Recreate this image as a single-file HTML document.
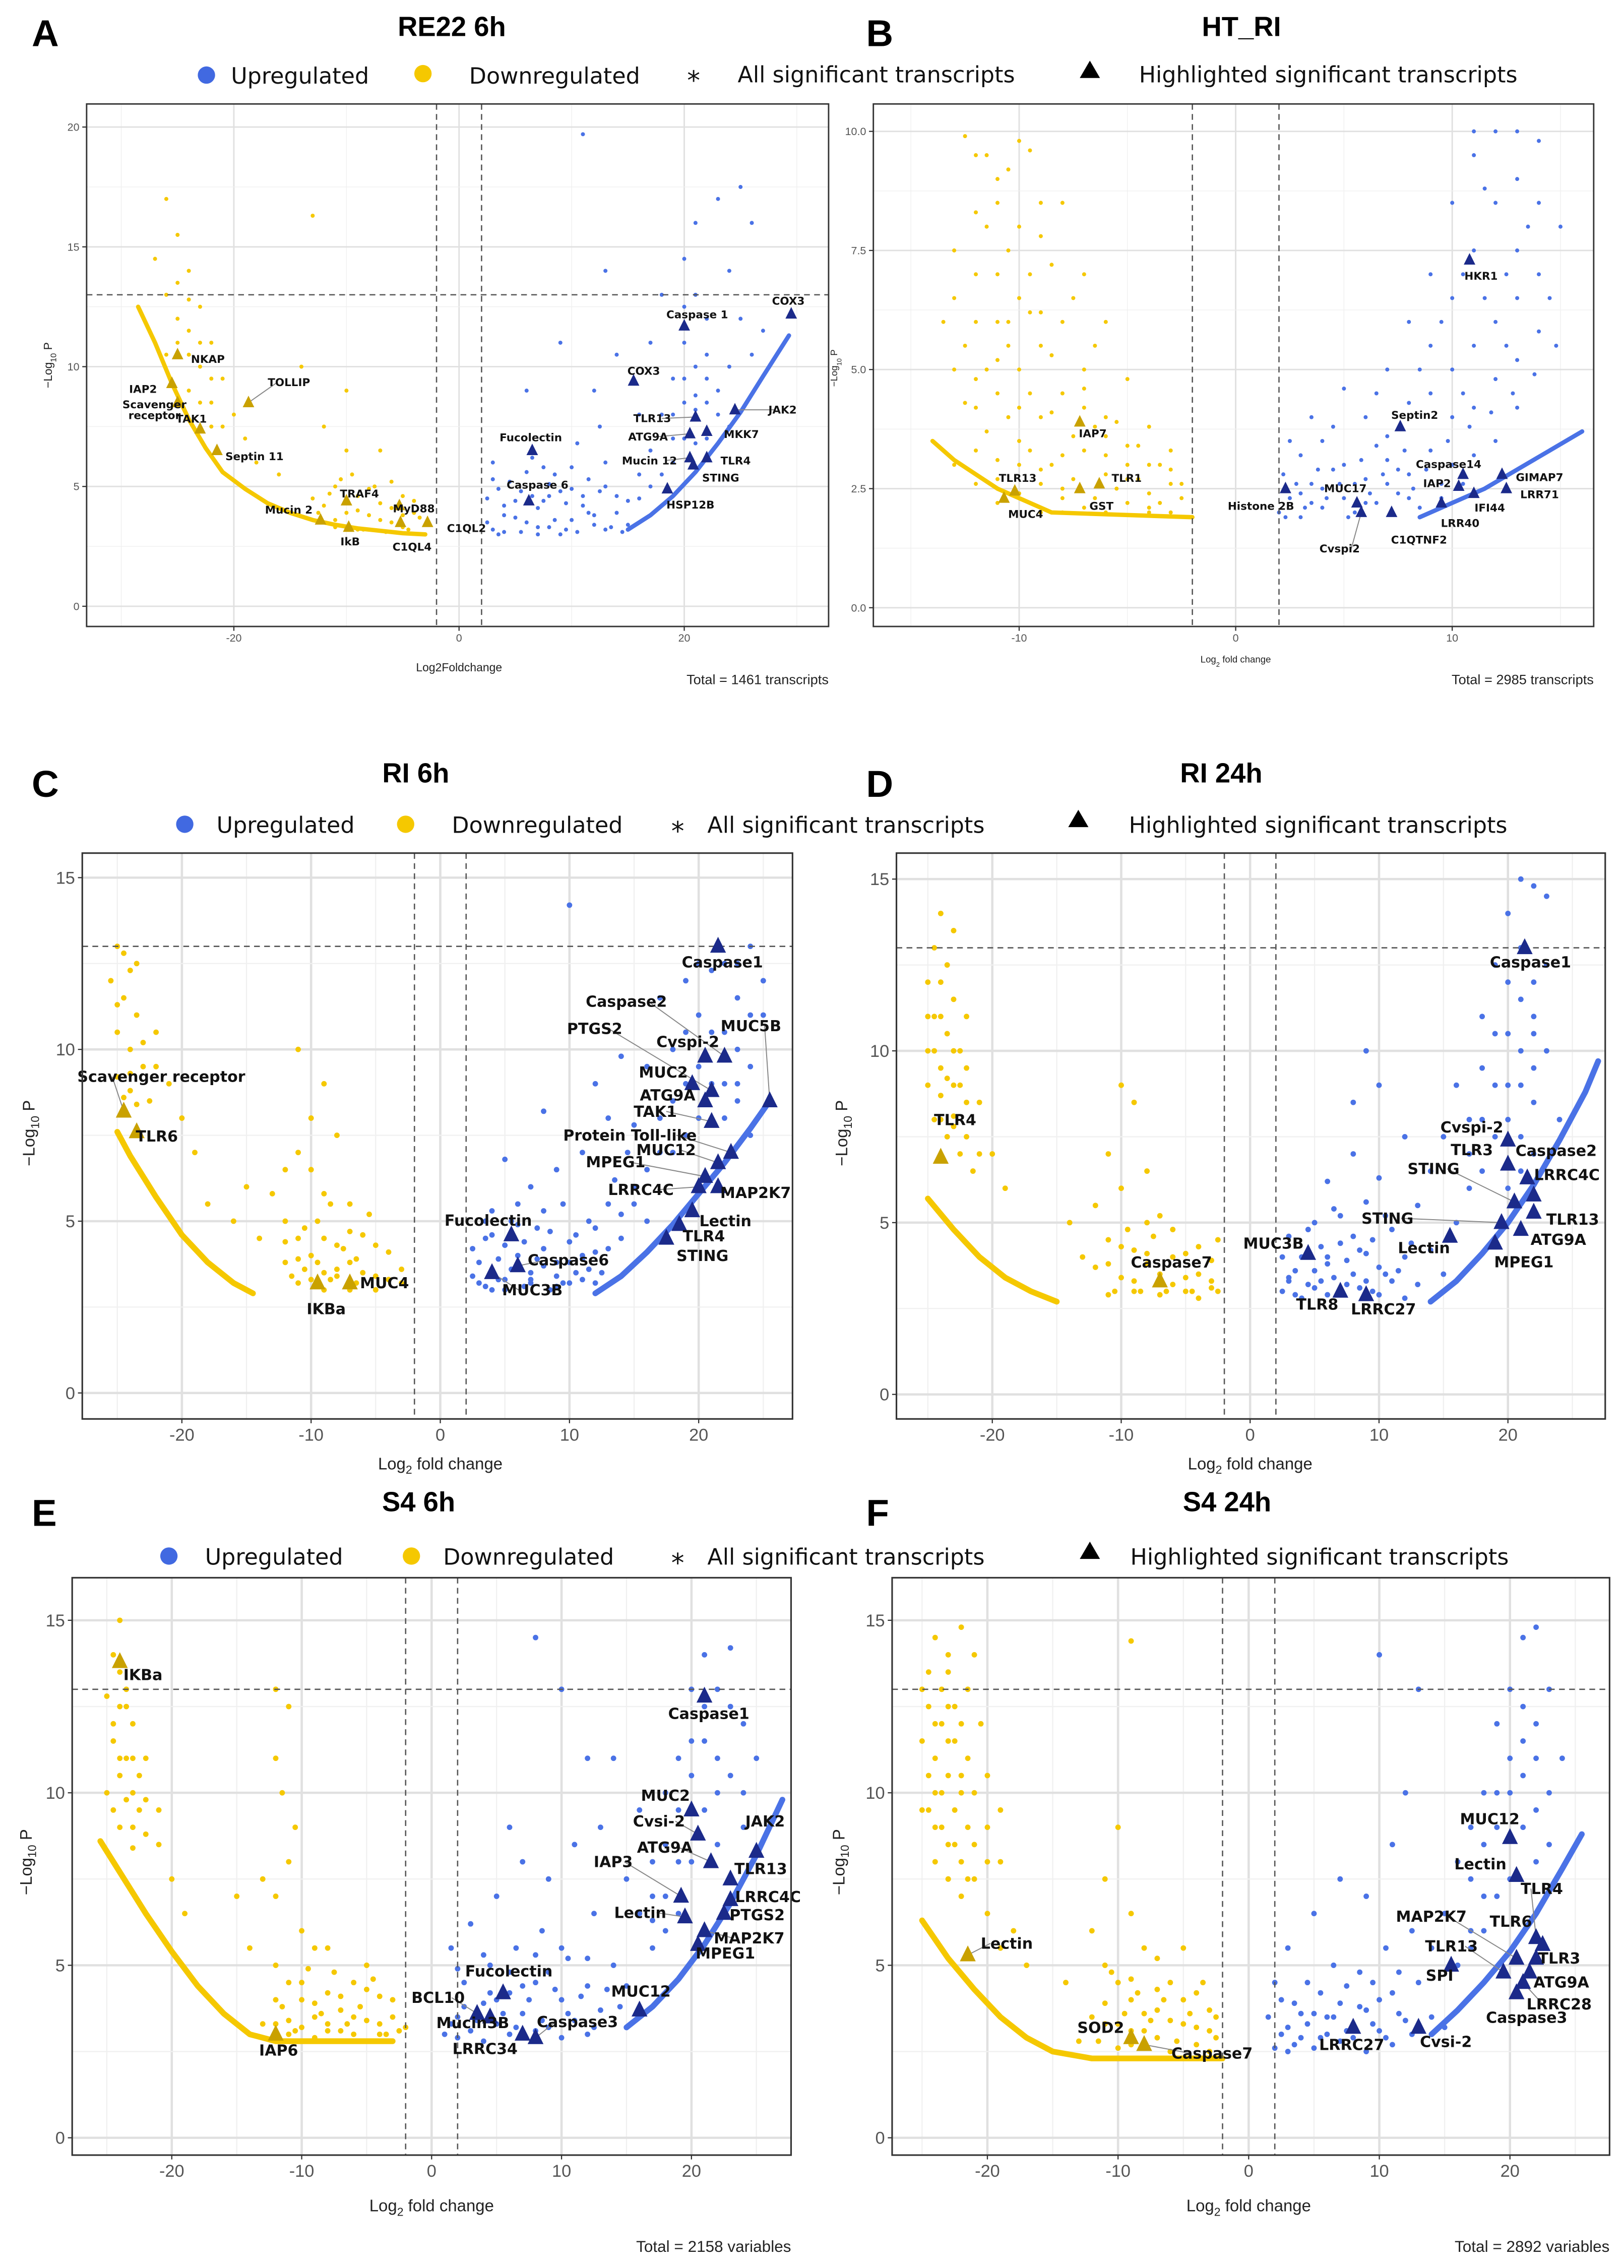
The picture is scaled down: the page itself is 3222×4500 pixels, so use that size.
<!DOCTYPE html>
<html><head><meta charset="utf-8"><style>
html,body{margin:0;padding:0;background:#fff;}
svg{display:block;font-family:"Liberation Sans",sans-serif;}
</style></head><body>
<svg id="fig" xmlns="http://www.w3.org/2000/svg" width="3222" height="4500" viewBox="0 0 1125 1571.2">
<rect x="0" y="0" width="1125" height="1571.2" fill="#fff"/>
<g font-weight="bold" font-size="26" fill="#000">
<text x="22" y="32">A</text>
<text x="600" y="32">B</text>
<text x="22" y="552">C</text>
<text x="600" y="552">D</text>
<text x="22" y="1057">E</text>
<text x="600" y="1057">F</text>
</g>
<g font-weight="bold" font-size="19" fill="#000" text-anchor="middle">
<text x="313" y="25">RE22 6h</text>
<text x="860" y="25">HT_RI</text>
<text x="288" y="542">RI 6h</text>
<text x="846" y="542">RI 24h</text>
<text x="290" y="1047">S4 6h</text>
<text x="850" y="1047">S4 24h</text>
</g>
<g font-size="15.5" fill="#111" font-family="DejaVu Sans, sans-serif">
<circle cx="143" cy="52" r="6" fill="#4169e1"/>
<text x="160" y="58">Upregulated</text>
<circle cx="293" cy="51" r="6" fill="#f5c800"/>
<text x="325" y="58">Downregulated</text>
<text x="476" y="62" font-size="18">*</text>
<text x="511" y="57">All significant transcripts</text>
<polygon points="755,42 748,54 762,54" fill="#000"/>
<text x="789" y="57">Highlighted significant transcripts</text>
</g>
<g font-size="15.5" fill="#111" font-family="DejaVu Sans, sans-serif">
<circle cx="128" cy="571" r="6" fill="#4169e1"/>
<text x="150" y="577">Upregulated</text>
<circle cx="281" cy="571" r="6" fill="#f5c800"/>
<text x="313" y="577">Downregulated</text>
<text x="465" y="582" font-size="18">*</text>
<text x="490" y="577">All significant transcripts</text>
<polygon points="747,561 740,573 754,573" fill="#000"/>
<text x="782" y="577">Highlighted significant transcripts</text>
</g>
<g font-size="15.5" fill="#111" font-family="DejaVu Sans, sans-serif">
<circle cx="117" cy="1078" r="6" fill="#4169e1"/>
<text x="142" y="1084">Upregulated</text>
<circle cx="285" cy="1078" r="6" fill="#f5c800"/>
<text x="307" y="1084">Downregulated</text>
<text x="465" y="1089" font-size="18">*</text>
<text x="490" y="1084">All significant transcripts</text>
<polygon points="755,1068 748,1080 762,1080" fill="#000"/>
<text x="783" y="1084">Highlighted significant transcripts</text>
</g>
</svg>
<script>
// ---------- Panel A (RE22 6h) ----------
const aUp=[[3,3.2],[4,3.8],[5,4.4],[6,3.5],[7,4.1],[8,3.3],[9,4.8],[10,3.6],[11,4.2],[12,3.4],[13,5.0],[14,3.9],[15,4.4],[4.5,5.2],[6.5,6.2],[8.5,5.5],[10.5,6.8],[12.5,7.5],[16,5.5],[17,6.5],[18,8],[19,9.5],[20,7],[21,10],[22,12],[23,9],[24,14],[25,17.5],[26,16],[21,16],[23,17],[22,8.5],[18,13],[20,14.5],[25,12],[26,10.5],[27,11.5],[17,11],[13,14],[11,19.7],[9,11],[6,9],[3,6],[12,9],[16,8],[19,6],[24,7.5],[14,10.5],[2.5,4.5],[3.5,4.9],[7.5,5.8],[9.5,3.2],[11.5,3.9],[13.5,3.3],[15,3.4],[5.5,3.1],[7,3.0],[4,3.1],[8,4.6],[10,4.9],[21,8.2],[22,9.5],[20,11]];
const aUpDense=[[2.5,3.5],[3.5,3.0],[4,4.2],[5,3.7],[5.5,4.8],[6.5,4.6],[7,3.3],[7.5,4.4],[8,5.1],[8.5,3.6],[9,3.0],[9.5,4.3],[10.5,3.1],[11,4.6],[11.5,5.3],[12,3.8],[12.5,4.8],[13,3.2],[14,4.6],[14.5,3.1],[3,5.3],[6,5.6],[10,5.8],[13,6],[16,4.5],[17,5],[18,5.5],[19,7],[20,8.5],[21,6.8],[22,7],[20,9.5],[19,8],[21,8.8],[23,8],[24,10],[22,10.5],[20,12.5],[21,13]];
const aUpBand=[[15,3.2],[17,3.8],[19,4.6],[21,5.6],[23,6.8],[25,8.1],[27,9.6],[29.3,11.3]];
const aDn=[[-26,17],[-25,15.5],[-24,14],[-27,14.5],[-26,13],[-23,12.5],[-24,11.5],[-22,11],[-25,12],[-23,10],[-21,9.5],[-22,8.5],[-20,8],[-24,9],[-26,10.5],[-19,7],[-18,6],[-13,16.3],[-14,10],[-16,5.5],[-11,5],[-10,4.5],[-9,4],[-8,3.8],[-7,4.3],[-6,3.5],[-5,4.6],[-4,3.9],[-3,3.4],[-12,4.2],[-9.5,5.5],[-7.5,5],[-12,7.5],[-10,9],[-8.5,3.2],[-6.5,3.1],[-11,3.6],[-4.5,3.2],[-10,6.5],[-7,6.5]];
const aDnDense=[[-11,3.3],[-10,3.9],[-9,4.6],[-8,3.2],[-7,3.6],[-6,4.1],[-5,3.3],[-4,4.4],[-3.5,3.7],[-12.5,3.9],[-11.5,4.7],[-10.5,5.3],[-9,3.2],[-8,4.9],[-6,5.2],[-5,3.8],[-13,4.5],[-24,12.8],[-25,11],[-23,11],[-22,9.5],[-23,8.5],[-21,7.5],[-22,7.5],[-25,13.5],[-24,10.5]];
const aDnBand=[[-28.5,12.5],[-27,11],[-25.5,9.3],[-24,7.8],[-22.5,6.6],[-21,5.6],[-19,4.9],[-17,4.3],[-15,3.9],[-13,3.6],[-11,3.4],[-9,3.25],[-7,3.15],[-5,3.05],[-3,3.0]];
const aHiLabels=["Caspase 1","COX3","COX3","Fucolectin","Caspase 6","TLR13","JAK2","ATG9A","MKK7","Mucin 12","TLR4","STING","HSP12B","NKAP","IAP2","Scavenger|receptor","TAK1","Septin 11","TOLLIP","TRAF4","Mucin 2","IkB","MyD88","C1QL4","C1QL2"];
const aHiX=[20,29.5,15.5,6.5,6.2,21,24.5,20.5,22,20.5,22,20.8,18.5,-25,-25.5,-25,-23,-21.5,-18.7,-10,-12.3,-9.8,-5.3,-5.2,-2.8];
const aHiY=[11.7,12.2,9.4,6.5,4.4,7.9,8.2,7.2,7.3,6.2,6.2,5.9,4.9,10.5,9.3,8.5,7.4,6.5,8.5,4.4,3.6,3.3,4.2,3.5,3.5];
const aHiUp=[1,1,1,1,1,1,1,1,1,1,1,1,1,0,0,0,0,0,0,0,0,0,0,0,0];
const aLabDX=[9,-2,7,-1,6,-30,33,-29,24,-28,20,19,16,21,-20,-16,-6,26,28,9,-22,1,10,8,27];
const aLabDY=[-8,-9,-7,-9,-11,1,0,2,2,2,2,9,11,3,4,5,-7,4,-14,-5,-7,10,2,17,4];

// ---------- Panel B (HT_RI) ----------
const bUp=[[2,2],[2.5,2.3],[3,1.9],[3.5,2.6],[4,2.1],[4.5,2.9],[5,2.3],[5.5,2.0],[6,2.7],[6.5,2.2],[7,3.1],[7.5,2.4],[8,2.8],[8.5,2.1],[9,3.3],[9.5,2.6],[10,3.0],[3,3.2],[4,3.5],[5,3.0],[6,4.0],[7,3.6],[8,4.3],[9,4.5],[10,5],[11,5.5],[12,6],[13,6.5],[11,4.2],[12,4.8],[13,5.2],[14,5.8],[10,6.5],[9,7],[11,7.5],[12,8.5],[13,9],[14,9.8],[12,10],[10,8.5],[8,6],[7,5],[11,9.5],[13,7.5],[14,7],[15,8],[9,5.5],[12,3.5],[2.2,2.8],[3.5,4.0],[5,4.6],[6.5,3.4],[11,3.2],[4,2.5],[6,2.2],[8,2.3],[3,2.4],[7,2.6],[13,4.2],[10,4]];
const bUpDense=[[2.3,1.9],[3.2,2.1],[4.2,2.3],[5.2,1.9],[6.2,2.4],[7.2,2.0],[8.2,2.5],[2.8,2.6],[3.8,2.9],[4.8,2.6],[5.8,3.1],[6.8,2.8],[7.8,3.3],[8.8,2.9],[9.8,3.5],[10.8,3.8],[11.8,4.1],[12.8,4.5],[13.8,4.9],[14.8,5.5],[2.5,3.5],[4.5,3.8],[6.5,4.5],[8.5,5],[10.5,4.5],[12.5,5.5],[13.5,8],[11.5,8.8],[10.5,7],[12.5,7],[14.5,6.5],[9.5,6],[11.5,6.5],[13,10],[11,10],[14,8.5],[3.5,2.2],[5.5,2.6],[7.5,2.9],[9.5,2.3],[10.5,2.6]];
const bUpBand=[[8.5,1.9],[10,2.2],[11.5,2.5],[13,2.9],[14.5,3.3],[16,3.7]];
const bDn=[[-12,9.5],[-11,9],[-10,9.8],[-9,8.5],[-11.5,8],[-10.5,7.5],[-12,7],[-9.5,7],[-10,6.5],[-8,6],[-11,6],[-12.5,5.5],[-9,5.5],[-7,5],[-10,5],[-8,4.5],[-11,4.5],[-6,4],[-12,4.2],[-9,4],[-7.5,3.6],[-10,3.5],[-5,3.4],[-4,3.0],[-3,2.6],[-6,2.8],[-8,2.5],[-9,2.9],[-11,3.1],[-5,2.2],[-3,2.0],[-4,2.4],[-7,2.1],[-9,2.0],[-2.5,2.3],[-6,3.2],[-8,3.2],[-10,2.4],[-12,2.6],[-13,3.0],[-7,7],[-6,6],[-8,8.5],[-13,6.5],[-5,4.8],[-4,3.8],[-3,3.3],[-6,2.0],[-4,2.0],[-8,2.0],[-10,4.2],[-11,5.2],[-9,6.2],[-7,4.2],[-5,2.7],[-11,2.2]];
const bDnDense=[[-12.5,9.9],[-11.5,9.5],[-10.5,9.2],[-9.5,9.6],[-11,8.5],[-10,8],[-12,8.3],[-9,7.8],[-8.5,7.2],[-11,7],[-10.5,6],[-12,6],[-9.5,6.2],[-8.5,5.3],[-10.5,5.5],[-11.5,5],[-12,4.8],[-9.5,4.5],[-8.5,4.1],[-7,4.6],[-6.5,3.8],[-10.5,4],[-11.5,3.7],[-9.5,3.3],[-8.5,3.0],[-7.5,2.7],[-6.5,2.3],[-5.5,2.5],[-4.5,2.7],[-3.5,2.2],[-2.5,2.6],[-3.5,3.0],[-4.5,3.4],[-5.5,3.9],[-6.5,5.5],[-7.5,6.5],[-12.5,4.3],[-13,5],[-13,7.5],[-12,3.3],[-10,3.0],[-9,2.6],[-8,2.3],[-7,3.3],[-6,3.6],[-5,3.0],[-4,2.1],[-3,2.9],[-11,2.7],[-13.5,6]];
const bDnBand=[[-14,3.5],[-13,3.1],[-12,2.8],[-11,2.5],[-10,2.3],[-8.5,2.0],[-2,1.9]];
const bHiLabels=["IAP7","TLR13","MUC4","TLR1","GST","HKR1","Septin2","Histone 2B","MUC17","Cvspi2","C1QTNF2","Caspase14","IAP2","GIMAP7","LRR71","IFI44","LRR40"];
const bHiX=[-7.2,-10.2,-10.7,-6.3,-7.2,10.8,7.6,2.3,5.6,5.8,7.2,10.5,10.3,12.3,12.5,11,9.5];
const bHiY=[3.9,2.45,2.3,2.6,2.5,7.3,3.8,2.5,2.2,2.0,2.0,2.8,2.55,2.8,2.5,2.4,2.2];
const bHiUp=[0,0,0,0,0,1,1,1,1,1,1,1,1,1,1,1,1];
const bLabDX=[9,2,15,19,15,8,10,-17,-8,-15,19,-10,-15,26,23,11,13];
const bLabDY=[8,-9,11,-4,12,11,-8,12,-10,25,19,-7,-2,2,4,10,14];

// ---------- Panel C (RI 6h) ----------
const cUp=[[3,3.2],[4,3.6],[5,3.3],[6,4],[7,3.5],[8,4.2],[9,3.4],[10,3.8],[11,3.3],[12,4.1],[3.5,4.5],[5.5,5],[7.5,4.8],[9.5,5.5],[11.5,5],[4.5,3.9],[6.5,3.1],[8.5,3.0],[10.5,4.6],[12.5,3.5],[13,5.5],[14,4.5],[15,6],[16,5],[14.5,7],[13,8],[11,7],[9,6.5],[7,6],[5,6.8],[10,14.2],[12,9],[8,8.2],[16,9.5],[17,8],[18,10],[17,11.5],[19,12],[20,11],[22,12.5],[23,11.5],[24,13],[25,12],[21,10.5],[23,10],[24,9.5],[25,11],[18,7],[19,7.5],[22,9],[20,8],[24,7.5],[15,7.8],[14,9.8],[13.5,6.2],[6,5.5],[4,5.3],[2.5,4.2],[2.5,3.4],[5,3.0],[7,3.3],[9,3.1],[11,3.9],[8,3.7],[6,3.6],[4,3.0],[10,3.2],[12,3.2],[21,12.3],[23,8.5]];
const cUpDense=[[3,3.8],[3.5,3.1],[4.5,3.3],[5,4.3],[5.5,3.6],[6.5,4.4],[7,3.2],[7.5,3.9],[8.5,4.7],[9,3.8],[9.5,3.2],[10,4.4],[10.5,3.5],[11,4.0],[11.5,3.6],[12,4.8],[4,4.6],[6,4.9],[8,5.3],[3.5,5.0],[13,4.2],[14,5.2],[15,5.5],[16,6.5],[17,7],[18,8.5],[19,9],[20,9.5],[21,9],[22,8],[23,9],[22,10.5],[19,10.5],[20,12.5],[23,12.5],[24,11]];
const cUpBand=[[12,2.9],[14,3.4],[16,4.1],[18,4.9],[20,5.8],[22,6.7],[24,7.7],[25.5,8.5]];
const cDn=[[-25,13],[-24,12.3],[-25.5,12],[-24.5,11.5],[-23.5,11],[-25,10.5],[-24,10],[-23,9.5],[-25,9.2],[-24,8.8],[-22,10.5],[-23.5,12.5],[-22.5,8.5],[-21,9],[-20,8],[-19,7],[-18,5.5],[-13,5.8],[-12,6.5],[-11,7],[-10,8],[-9,9],[-8,7.5],[-11,10],[-7,5.5],[-12,5],[-11,4.5],[-10,4],[-9,3.5],[-8,4.3],[-7,3.8],[-6,4.6],[-5,3.4],[-4,4.1],[-3,3.6],[-9.5,5],[-8.5,5.5],[-10.5,3.6],[-6.5,3.2],[-5.5,5.2],[-14,4.5],[-15,6],[-16,5],[-3,3.2],[-12,3.8],[-9,3.0],[-7,3.0],[-11,3.2],[-5,3.0],[-8,3.4]];
const cDnDense=[[-11,3.9],[-10,3.3],[-9,4.5],[-8,3.6],[-7,4.7],[-6,3.5],[-5,4.3],[-4,3.3],[-10.5,4.8],[-9.5,3.8],[-8.5,3.3],[-7.5,4.2],[-6.5,3.9],[-11.5,3.4],[-12,4.4],[-9,5.8],[-10,6.5],[-25,11.3],[-24.5,12.8],[-24,9.3],[-23,10.2],[-24.5,8.6],[-23.5,8.4],[-22,9.5]];
const cDnBand=[[-25,7.6],[-24,6.9],[-22,5.7],[-20,4.6],[-18,3.8],[-16,3.2],[-14.5,2.9]];
const cHiLabels=["Caspase1","Caspase2","MUC5B","PTGS2","Cvspi-2","MUC2","ATG9A","TAK1","Protein Toll-like","MUC12","MPEG1","LRRC4C","MAP2K7","Lectin","TLR4","STING","Fucolectin","Caspase6","MUC3B","Scavenger receptor","TLR6","IKBa","MUC4"];
const cHiX=[21.5,22,25.5,21,20.5,19.5,20.5,21,22.5,21.5,20.5,20,21.5,19.5,18.5,17.5,5.5,6,4,-24.5,-23.5,-9.5,-7];
const cHiY=[13,9.8,8.5,8.8,9.8,9.0,8.5,7.9,7.0,6.7,6.3,6,6,5.3,4.9,4.5,4.6,3.7,3.5,8.2,7.6,3.2,3.2];
const cHiUp=[1,1,1,1,1,1,1,1,1,1,1,1,1,1,1,1,1,1,1,0,0,0,0];
const cLabDX=[3,-68,-13,-81,-12,-20,-26,-39,-70,-36,-62,-40,26,23,17,25,-16,35,28,26,14,6,24];
const cLabDY=[11,-38,-52,-43,-10,-8,-4,-7,-12,-9,-10,2,4,7,8,12,-10,-4,12,-24,3,18,0];

// ---------- Panel D (RI 24h) ----------
const dUp=[[2.5,3.0],[3.5,3.6],[4.5,3.2],[5.5,4.3],[6.5,3.4],[7.5,3.9],[8.5,3.1],[9.5,4.5],[10.5,3.5],[3,4.6],[5,5],[7,5.2],[9,5.6],[11,4.8],[12,4],[13,5.5],[14,6.5],[6,6.2],[8,7],[10,6.3],[10,9],[8,8.5],[9,10],[12,7.5],[15,7.5],[16,9],[17,8],[18,11],[19,12.5],[20,14],[21,15],[22,14.8],[23,14.5],[20,10.5],[21,11.5],[22,12],[23,10],[19,9],[18,8],[21,9],[22,8.5],[24,8],[17,6],[16,5],[15,3.5],[4,2.8],[6,2.9],[11,3.3],[13,3.2],[20,6],[14,4.2],[5,3.6],[7,3.0],[9,3.3],[3,3.4],[8,4.6],[6,4.0],[10,2.9],[12,2.8],[21,13],[22,10.5]];
const dUpDense=[[3,3.3],[4,4.0],[5,3.1],[6,3.8],[7,4.4],[8,3.5],[9,4.1],[10,3.7],[3.5,2.9],[5.5,3.3],[7.5,3.2],[9.5,3.0],[11.5,3.6],[12.5,4.4],[4.5,4.8],[6.5,5.4],[8.5,4.2],[10.5,5.2],[2.5,4.0],[17,7],[18,9.5],[19,10.5],[20,9],[21,10],[22,11],[20,12],[19,7.5],[18,6.5],[21,7.5],[22,9.5],[23,12.5],[20,8],[21,6.5],[22,7]];
const dUpBand=[[14,2.7],[16,3.3],[18,4.1],[20,5],[22,6.1],[24,7.4],[26,8.8],[27,9.7]];
const dDn=[[-24,14],[-24.5,13],[-23.5,12.5],[-24,12],[-23,11.5],[-24.5,11],[-23.5,10.5],[-22.5,10],[-24,9.5],[-23,9],[-22,8.5],[-24.5,8],[-23.5,7.5],[-22.5,7],[-21.5,6.5],[-25,12],[-22,11],[-23,13.5],[-25,9],[-21,8.5],[-20,7],[-19,6],[-10,9],[-9,8.5],[-11,7],[-8,6.5],[-10,6],[-12,5.5],[-7,5.2],[-6,4.8],[-11,4.5],[-9,4.2],[-8,3.8],[-5,4.1],[-4,3.5],[-3,3.9],[-10,3.4],[-6,3.2],[-12,3.7],[-14,5],[-13,4],[-5,3],[-3,3.1],[-8,5],[-2.5,4.5],[-9,3.0],[-7,2.9],[-11,2.9],[-4,2.8],[-24,8.7],[-23,8.1],[-22,9.5],[-25,10]];
const dDnDense=[[-11,3.8],[-10,4.3],[-9,3.3],[-8,4.1],[-7,3.5],[-6,4.0],[-5,3.4],[-4,4.3],[-3,3.3],[-10.5,3.0],[-8.5,3.0],[-6.5,3.0],[-4.5,3.0],[-2.5,3.0],[-9.5,4.8],[-7.5,4.6],[-24.5,10],[-24,11],[-23,10],[-22.5,9],[-24,8],[-23,7.8],[-22,7.5],[-21,7],[-25,11],[-23.5,9.2]];
const dDnBand=[[-25,5.7],[-23,4.8],[-21,4],[-19,3.4],[-17,3],[-15,2.7]];
const dHiLabels=["Caspase1","Cvspi-2","TLR3","Caspase2","LRRC4C","STING","STING","TLR13","ATG9A","MPEG1","Lectin","MUC3B","TLR8","LRRC27","TLR4","Caspase7"];
const dHiX=[21.3,20,20,21.5,22,20.5,19.5,22,21,19,15.5,4.5,7,9,-24,-7];
const dHiY=[13,7.4,6.7,6.3,5.8,5.6,5.0,5.3,4.8,4.4,4.6,4.1,3.0,2.9,6.9,3.3];
const dHiUp=[1,1,1,1,1,1,1,1,1,1,1,1,1,1,0,0];
const dLabDX=[4,-25,-25,20,23,-56,-79,27,26,20,-18,-24,-16,12,10,8];
const dLabDY=[10,-9,-10,-19,-14,-23,-3,5,7,13,8,-7,9,10,-26,-13];

// ---------- Panel E (S4 6h) ----------
const eUp=[[1,3.0],[2,3.5],[3,3.1],[4,3.9],[5,3.3],[6,4.2],[7,3.6],[8,4.5],[9,3.2],[10,4.0],[11,3.4],[12,4.4],[13,3.7],[2.5,4.5],[4.5,5],[6.5,5.5],[8.5,6],[10.5,5.2],[12.5,6.5],[14,5],[15,4.4],[3,6.2],[5,7],[7,8],[9,7.5],[11,8.5],[13,9],[10,13],[8,14.5],[14,11],[16,9.5],[17,8],[18,10],[19,11],[20,13],[21,14],[22,13],[23,14.2],[24,12],[25,11],[20,10.5],[22,10],[18,7],[17,5.5],[19,6.5],[24,9],[16,6.5],[15,7.5],[6,9],[12,11],[1.5,5.5],[2,2.9],[4,2.8],[6,3.0],[8,3.1],[10,2.9],[12,3.0],[5,4.0],[7,4.4],[9,4.8],[21,11.5],[23,10.5]];
const eUpDense=[[1.5,3.3],[2.5,3.8],[3.5,3.4],[4.5,4.2],[5.5,3.6],[6.5,3.2],[7.5,4.0],[8.5,3.4],[9.5,4.3],[10.5,3.6],[11.5,4.1],[12.5,3.2],[13.5,4.3],[14.5,3.8],[2,4.9],[4,5.3],[6,4.8],[8,5.3],[10,5.5],[12,5.2],[17,7],[18,8.5],[19,9.5],[20,11.5],[21,12.5],[22,11],[23,12.5],[24,10],[20,8],[21,9.5],[22,8.5],[19,8],[18,6],[17,6.3]];
const eUpBand=[[15,3.2],[17,3.8],[19,4.6],[21,5.6],[23,6.8],[25,8.2],[27,9.8]];
const eDn=[[-24,15],[-24.5,14],[-23.5,13],[-24,12.5],[-23,12],[-24.5,11.5],[-23.5,11],[-24,10.5],[-23,10],[-22.5,9.5],[-24,9],[-22,8.8],[-25,12.8],[-22,11],[-21,9.5],[-20,7.5],[-19,6.5],[-12,13],[-11,12.5],[-12,11],[-11.5,10],[-10.5,9],[-11,8],[-12,7],[-10,6],[-13,7.5],[-9,5.5],[-12,5],[-11,4.5],[-10,4],[-9,3.5],[-8,4.2],[-7,3.7],[-6,4.5],[-5,3.4],[-4,4.1],[-3,3.5],[-2,3.2],[-8,5.5],[-5,5],[-14,5.5],[-15,7],[-13,3.3],[-7,3.1],[-10,3.2],[-11,3.0],[-9,2.9],[-6,3.0],[-4,3.0],[-12,4.0],[-8,3.3],[-23,8.4],[-25,10]];
const eDnDense=[[-11,3.4],[-10,4.5],[-9,3.9],[-8,3.1],[-7,4.1],[-6,3.5],[-5,4.3],[-4,3.3],[-3,4],[-2.5,3.1],[-11.5,3.8],[-10.5,3.1],[-9.5,4.9],[-8.5,3.6],[-7.5,4.8],[-6.5,3.3],[-5.5,3.8],[-4.5,4.6],[-3.5,3.0],[-12,3.3],[-24,13.5],[-23.5,12.5],[-24.5,12],[-23,11],[-24,11],[-23.5,9.8],[-22.5,10.5],[-24.5,9.5],[-22,9.8],[-21,8.5],[-23,9]];
const eDnBand=[[-25.5,8.6],[-24,7.7],[-22,6.5],[-20,5.4],[-18,4.4],[-16,3.6],[-14,3],[-12,2.8],[-3,2.8]];
const eHiLabels=["Caspase1","MUC2","Cvsi-2","JAK2","ATG9A","IAP3","TLR13","LRRC4C","PTGS2","Lectin","MAP2K7","MPEG1","MUC12","Fucolectin","BCL10","Mucin3B","LRRC34","Caspase3","IKBa","IAP6"];
const eHiX=[21,20,20.5,25,21.5,19.2,23,23,22.5,19.5,21,20.5,16,5.5,3.5,4.5,7,8,-24,-12];
const eHiY=[12.8,9.5,8.8,8.3,8.0,7.0,7.5,6.9,6.5,6.4,6,5.6,3.7,4.2,3.6,3.5,3.0,2.9,13.8,3.0];
const eHiUp=[1,1,1,1,1,1,1,1,1,1,1,1,1,1,1,1,1,1,0,0];
const eLabDX=[3,-18,-27,6,-32,-47,21,26,23,-31,31,19,1,4,-27,-12,-26,29,16,2];
const eLabDY=[12,-10,-9,-21,-10,-24,-7,-2,1,-3,5,6,-13,-15,-11,4,10,-11,9,11];

// ---------- Panel F (S4 24h) ----------
const fUp=[[2,2.6],[3,3.2],[4,2.9],[5,3.6],[6,3.0],[7,3.9],[8,3.3],[9,3.7],[10,3.1],[11,4.2],[12,3.4],[2.5,4],[4.5,4.5],[6.5,5],[8.5,4.8],[10.5,5.5],[12.5,6],[13,4.5],[14,5.5],[3,5.5],[5,6.5],[7,7.5],[9,7],[11,8.5],[12,10],[10,14],[15,6.5],[16,8],[17,9],[18,10],[19,12],[20,13],[21,14.5],[22,14.8],[23,13],[24,11],[20,10],[22,9.5],[21,11.5],[19,9],[18,7],[17,6],[23,8.5],[16,5],[14,3.5],[13,13],[15,3.2],[1.5,3.5],[3,2.5],[5,2.6],[7,2.8],[9,2.5],[11,2.7],[6,3.5],[8,2.9],[4,3.6],[10,4.0],[21,12.5],[22,11]];
const fUpDense=[[2.5,3.0],[3.5,2.7],[4.5,3.3],[5.5,2.9],[6.5,3.5],[7.5,3.1],[8.5,3.8],[9.5,3.3],[10.5,2.9],[11.5,3.6],[12.5,3.0],[3.5,3.9],[5.5,4.2],[7.5,4.4],[9.5,4.5],[11.5,4.8],[2,4.5],[17,7.5],[18,8.5],[19,10],[20,11],[21,10.5],[22,12],[23,10],[19,7],[20,7.5],[21,9],[22,8],[18,6],[17,5.5]];
const fUpBand=[[14,3.0],[16,3.7],[18,4.5],[20,5.4],[22,6.5],[24,7.8],[25.5,8.8]];
const fDn=[[-24,14.5],[-23,14],[-22,14.8],[-21,14],[-24.5,13.5],[-23.5,13],[-22.5,12.5],[-24,12],[-23,11.5],[-21.5,11],[-24.5,10.5],[-23.5,10],[-22.5,9.5],[-21,10],[-24,9],[-23,8.5],[-22,8],[-20,9],[-19,8],[-25,11.5],[-20.5,12],[-21.5,7.5],[-20,6.5],[-18,6],[-19,5.5],[-17,5],[-9,14.4],[-10,9],[-11,7.5],[-9,6.5],[-12,6],[-8,5.5],[-11,5],[-10,4.5],[-9,4],[-8,3.6],[-7,4.3],[-6,3.4],[-5,4.0],[-4,3.2],[-3,3.7],[-2.5,2.9],[-12,3.5],[-14,4.5],[-7,5.2],[-5,5.5],[-13,2.8],[-10,2.6],[-6,2.5],[-3,2.5],[-9,3.1],[-7,2.9],[-11,3.3],[-4,2.7],[-8,2.6],[-25,13],[-23,12.5],[-22,10.5],[-24,10],[-21,8.5],[-25,9.5],[-23,7.5]];
const fDnDense=[[-24.5,12.5],[-23.5,12],[-22.5,11.5],[-24,11],[-23,10.5],[-22,10],[-24.5,9.5],[-23.5,9],[-22.5,8.5],[-21.5,9],[-24,8],[-23,7.5],[-22,7],[-21,7.5],[-20,8],[-23,13.5],[-21.5,13],[-22,12],[-20,10.5],[-19,9.5],[-11,3.9],[-10,3.3],[-9,4.6],[-8,3.1],[-7,3.7],[-6,4.5],[-5,3.3],[-4,4.2],[-3,3.1],[-10.5,4.8],[-9.5,3.6],[-8.5,4.2],[-7.5,3.4],[-6.5,4.0],[-5.5,2.8],[-4.5,3.6],[-3.5,4.5],[-2.5,3.5],[-11.5,2.8],[-9,2.7]];
const fDnBand=[[-25,6.3],[-23,5.2],[-21,4.3],[-19,3.5],[-17,2.9],[-15,2.5],[-12,2.3],[-2,2.3]];
const fHiLabels=["MUC12","Lectin","TLR4","MAP2K7","TLR6","TLR13","SPI","TLR3","ATG9A","LRRC28","Caspase3","LRRC27","Cvsi-2","Lectin","SOD2","Caspase7"];
const fHiX=[20,20.5,22,20.5,22.5,19.5,15.5,22,21.5,21,20.5,8,13,-21.5,-9,-8];
const fHiY=[8.7,7.6,5.8,5.2,5.6,4.8,5.0,5.2,4.8,4.5,4.2,3.2,3.2,5.3,2.9,2.7];
const fHiUp=[1,1,1,1,1,1,1,1,1,1,1,1,1,0,0,0];
const fLabDX=[-14,-25,4,-59,-22,-36,-8,16,22,25,7,-1,19,27,-21,47];
const fLabDY=[-13,-8,-34,-29,-16,-18,7,0,7,15,17,12,10,-8,-7,6];

// axis tick arrays
const tickXA=[-20,0,20], tickYA=[0,5,10,15,20];
const tickXB=[-10,0,10], tickYB=[0,2.5,5,7.5,10], tickYBLab=["0.0","2.5","5.0","7.5","10.0"];
const tickX=[-20,-10,0,10,20], tickY=[0,5,10,15];

const NS='http://www.w3.org/2000/svg';
const svg=document.getElementById('fig');
function mk(tag,attrs,parent){const e=document.createElementNS(NS,tag);for(const k in attrs)e.setAttribute(k,attrs[k]);parent.appendChild(e);return e;}

function drawPanel(id,cfg,up,upBand,dn,dnBand,hL,hX,hY,hUp,lDX,lDY){
  const X=v=>cfg.x0+cfg.kx*v, Y=v=>cfg.y0-cfg.ky*v;
  const [L,T,R,B]=cfg.box;
  const g=mk('g',{},svg);
  
  
  const cp=mk('clipPath',{id:'clip-'+id},g);
  mk('rect',{x:L,y:T,width:R-L,height:B-T},cp);
  const bg=mk('rect',{x:L,y:T,width:R-L,height:B-T,fill:'#fff'},g);
  
  
  const grid=mk('g',{'clip-path':'url(#clip-'+id+')'},g);
  
  
  const xs=cfg.xt[1]-cfg.xt[0], ys=cfg.yt[1]-cfg.yt[0];
  for(let t=cfg.xt[0]-xs*2;t<=cfg.xt[cfg.xt.length-1]+xs*2;t+=xs/2){
    const major=cfg.xt.includes(t);
    mk('line',{x1:X(t),x2:X(t),y1:T,y2:B,stroke:major?'#e0e0e0':'#f0f0f0','stroke-width':major?cfg.gw:cfg.gw*0.5},grid);
  }
  for(let t=cfg.yt[0];t<=cfg.yt[cfg.yt.length-1]+ys;t+=ys/2){
    const major=cfg.yt.includes(t);
    mk('line',{x1:L,x2:R,y1:Y(t),y2:Y(t),stroke:major?'#e0e0e0':'#f0f0f0','stroke-width':major?cfg.gw:cfg.gw*0.5},grid);
  }
  const pts=mk('g',{'clip-path':'url(#clip-'+id+')'},g);
  
  
  const blue='#4a72e6', yel='#f5c800';
  const bandU=mk('polyline',{points:upBand.map(p=>X(p[0])+','+Y(p[1])).join(' '),fill:'none',stroke:blue,'stroke-width':cfg.bw,'stroke-linecap':'round','stroke-linejoin':'round'},pts);
  
  
  const bandD=mk('polyline',{points:dnBand.map(p=>X(p[0])+','+Y(p[1])).join(' '),fill:'none',stroke:yel,'stroke-width':cfg.bw,'stroke-linecap':'round','stroke-linejoin':'round'},pts);
  
  
  up.forEach(p=>{const c=mk('circle',{cx:X(p[0]),cy:Y(p[1]),r:cfg.pr,fill:blue},pts);
    
    });
  dn.forEach(p=>{const c=mk('circle',{cx:X(p[0]),cy:Y(p[1]),r:cfg.pr,fill:yel},pts);
    
    });
  [-2,2].forEach(v=>{const l=mk('line',{x1:X(v),x2:X(v),y1:T,y2:B,stroke:'#555','stroke-width':0.9,'stroke-dasharray':'4,3'},g);
    
    });
  if(cfg.h){const l=mk('line',{x1:L,x2:R,y1:Y(13),y2:Y(13),stroke:'#555','stroke-width':0.9,'stroke-dasharray':'4,3'},g);
    
    }
  const hg=mk('g',{'font-weight':'bold','font-size':cfg.lf,'text-anchor':'middle','font-family':'DejaVu Sans, sans-serif'},g);
  
  
  const s=cfg.ts;
  hL.forEach((lab,i)=>{
    const tx=X(hX[i]), ty=Y(hY[i]);
    const lx=tx+lDX[i], ly=ty+lDY[i];
    if(Math.hypot(lDX[i],lDY[i])>28){
      const a=mk('line',{x1:lx+(lDX[i]>0?-cfg.lf*lab.length*0.3:cfg.lf*lab.length*0.3)*0.6,y1:ly,x2:tx,y2:ty,stroke:'#888','stroke-width':0.7},hg);
      
      
    }
    const tri=mk('polygon',{points:`${tx},${ty-s*0.6} ${tx-s/2},${ty+s*0.4} ${tx+s/2},${ty+s*0.4}`,fill:hUp[i]?'#1b2a8a':'#c9a100'},hg);
    
    
    const lines=lab.split('|');
    lines.forEach((ln,j)=>{
      const t=mk('text',{x:lx,y:ly+cfg.lf*0.35+(j-(lines.length-1)/2)*cfg.lf,fill:'#111'},hg);
      t.textContent=ln;
      
      
    });
  });
  const br=mk('rect',{x:L,y:T,width:R-L,height:B-T,fill:'none',stroke:'#333','stroke-width':cfg.bs},g);
  
  
  const ax=mk('g',{fill:'#555','font-size':cfg.tf},g);
  
  
  cfg.xt.forEach(t=>{mk('line',{x1:X(t),x2:X(t),y1:B,y2:B+3,stroke:'#333','stroke-width':0.8},ax);
    const tx=mk('text',{x:X(t),y:B+3+cfg.tf,'text-anchor':'middle'},ax);tx.textContent=t;
    
    });
  cfg.yt.forEach((t,i)=>{mk('line',{x1:L-3,x2:L,y1:Y(t),y2:Y(t),stroke:'#333','stroke-width':0.8},ax);
    const tx=mk('text',{x:L-5,y:Y(t)+cfg.tf*0.35,'text-anchor':'end'},ax);tx.textContent=cfg.ytl?cfg.ytl[i]:t;
    
    });
  const xl=mk('text',{x:cfg.xlab[0],y:cfg.xlab[1],'text-anchor':'middle','font-size':cfg.af,fill:'#222'},g);
  xl.innerHTML=cfg.xsub?'Log<tspan font-size="'+cfg.af*0.7+'" dy="3">2</tspan><tspan dy="-3"> fold change</tspan>':'Log2Foldchange';
  
  
  const yl=mk('text',{x:0,y:0,'text-anchor':'middle','font-size':cfg.af,fill:'#222',transform:`translate(${cfg.ylab[0]},${cfg.ylab[1]}) rotate(-90)`},g);
  yl.innerHTML='−Log<tspan font-size="'+cfg.af*0.7+'" dy="3">10</tspan><tspan dy="-3"> P</tspan>';
  
  
  if(cfg.total){const tt=mk('text',{x:R,y:cfg.total[1],'text-anchor':'end','font-size':cfg.totf,fill:'#222'},g);
    tt.textContent=cfg.total[0];
    
    }
}

const small={pr:1.4,bw:3,ts:8,lf:7.5,tf:7.5,af:8,gw:1,bs:1,totf:9.5};
const big={pr:1.9,bw:4,ts:11,lf:10.5,tf:12,af:11.5,gw:1.6,bs:1.1,totf:11,xsub:true,h:true};

drawPanel('a',Object.assign({},small,{box:[60,72,574,434],x0:318,kx:7.8,y0:420,ky:16.6,xt:tickXA,yt:tickYA,h:true,xlab:[318,465],ylab:[36,253],total:['Total = 1461 transcripts',474]}),aUp.concat(aUpDense),aUpBand,aDn.concat(aDnDense),aDnBand,aHiLabels,aHiX,aHiY,aHiUp,aLabDX,aLabDY);
drawPanel('b',Object.assign({},small,{box:[605,72,1104,434],x0:856,kx:15,y0:421,ky:33,xt:tickXB,yt:tickYB,ytl:tickYBLab,h:false,xsub:true,af:6.5,xlab:[856,459],ylab:[580,255],total:['Total = 2985 transcripts',474]}),bUp.concat(bUpDense),bUpBand,bDn.concat(bDnDense),bDnBand,bHiLabels,bHiX,bHiY,bHiUp,bLabDX,bLabDY);
drawPanel('c',Object.assign({},big,{box:[57,591,549,983],x0:305,kx:8.95,y0:965,ky:23.8,xt:tickX,yt:tickY,xlab:[305,1018],ylab:[24,785]}),cUp.concat(cUpDense),cUpBand,cDn.concat(cDnDense),cDnBand,cHiLabels,cHiX,cHiY,cHiUp,cLabDX,cLabDY);
drawPanel('d',Object.assign({},big,{box:[621,591,1112,983],x0:866,kx:8.93,y0:966,ky:23.8,xt:tickX,yt:tickY,xlab:[866,1018],ylab:[587,785]}),dUp.concat(dUpDense),dUpBand,dDn.concat(dDnDense),dDnBand,dHiLabels,dHiX,dHiY,dHiUp,dLabDX,dLabDY);
drawPanel('e',Object.assign({},big,{box:[50,1093,548,1493],x0:299,kx:9,y0:1481,ky:23.9,xt:tickX,yt:tickY,xlab:[299,1532],ylab:[22,1290],total:['Total = 2158 variables',1560]}),eUp.concat(eUpDense),eUpBand,eDn.concat(eDnDense),eDnBand,eHiLabels,eHiX,eHiY,eHiUp,eLabDX,eLabDY);
drawPanel('f',Object.assign({},big,{box:[618,1093,1115,1493],x0:865,kx:9.05,y0:1481,ky:23.9,xt:tickX,yt:tickY,xlab:[865,1532],ylab:[585,1290],total:['Total = 2892 variables',1560]}),fUp.concat(fUpDense),fUpBand,fDn.concat(fDnDense),fDnBand,fHiLabels,fHiX,fHiY,fHiUp,fLabDX,fLabDY);
</script>
</body></html>
